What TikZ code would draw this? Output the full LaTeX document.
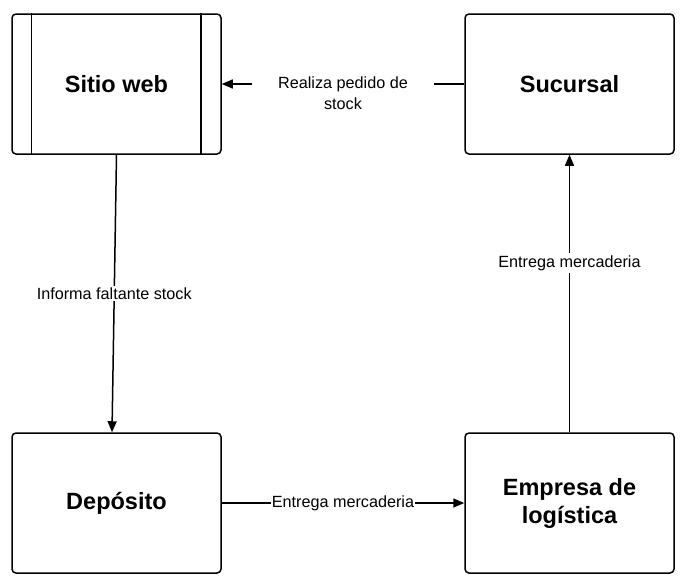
\documentclass[tikz,border=0pt]{standalone}
\usepackage{fontspec}
\setmainfont{Liberation Sans}
\usetikzlibrary{arrows.meta,positioning,calc}

\begin{document}
\begin{tikzpicture}[
    x=1pt, y=-1pt,
    box/.style={draw, line width=1.5pt, rounded corners=4pt, minimum width=209pt, minimum height=140pt, align=center, font=\fontsize{23.5}{28}\selectfont\bfseries},
    arrow/.style={-{Triangle[length=11pt,width=9pt]}, line width=1.5pt},
    lbl/.style={fill=white, font=\fontsize{16.2}{20.5}\selectfont, inner sep=2pt, align=center}
]
    \useasboundingbox (0,0) rectangle (689,584);

    % Top row
    \node[box] (sitio) at (116.5,84) {Sitio web};
    \draw[line width=1.5pt] ([xshift=20pt]sitio.north west) -- ([xshift=20pt]sitio.south west);
    \draw[line width=1.5pt] ([xshift=-21pt]sitio.north east) -- ([xshift=-21pt]sitio.south east);
    \node[box] (sucursal) at (569.5,84) {Sucursal};

    % Bottom row
    \node[box] (deposito) at (116.5,503) {Depósito};
    \node[box] (empresa) at (569.5,503) {Empresa de\\logística};

    % Arrows
    \draw[arrow] (sucursal) -- (sitio) node[midway, lbl, inner xsep=26pt, yshift=-9pt] {Realiza pedido de\\stock};
    \draw[arrow] (sitio.south) -- ([xshift=-4.5pt]deposito.north) node[midway, lbl] {Informa faltante stock};
    \draw[arrow] (deposito) -- (empresa) node[midway, lbl, inner sep=1pt] {Entrega mercaderia};
    \draw[arrow] (empresa) -- (sucursal) node[pos=0.61, lbl] {Entrega mercaderia};

\end{tikzpicture}
\end{document}
